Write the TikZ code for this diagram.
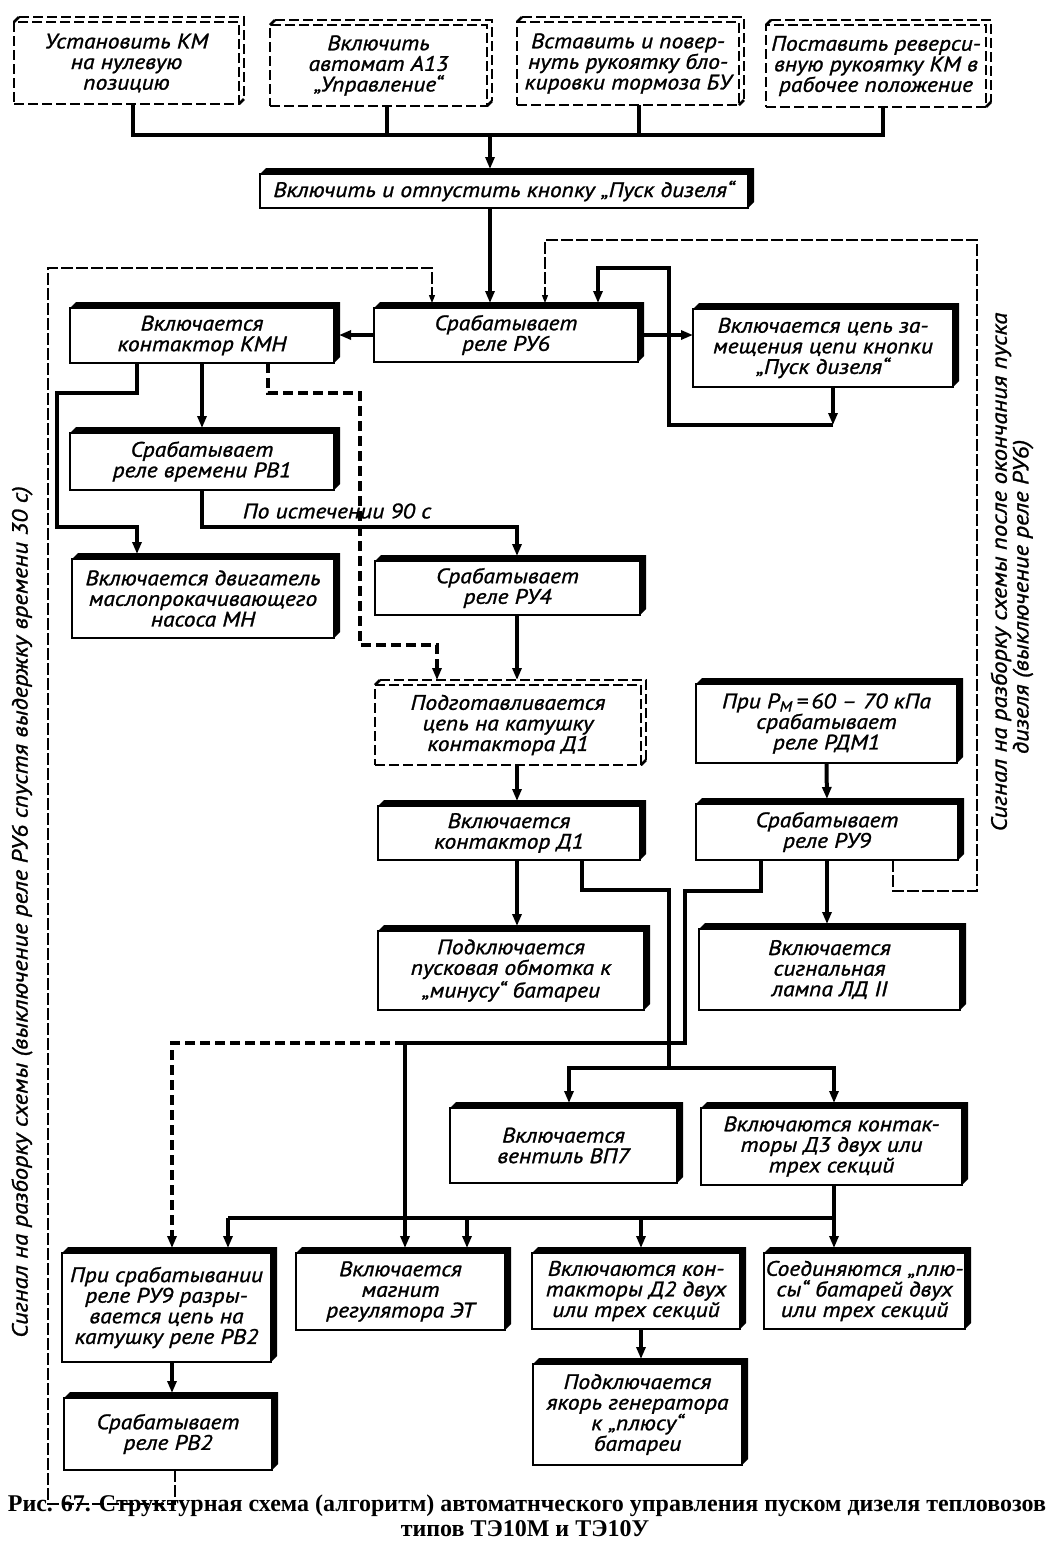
\documentclass[tikz,border=0pt]{standalone}
\usepackage{fontspec}
\newfontfamily\gost[FakeStretch=1.12,FakeBold=1.2]{PT Sans}
\newfontfamily\capfont{Liberation Serif}
\usetikzlibrary{arrows.meta,calc}
\tikzset{
  blk/.style={draw, line width=1pt, fill=white, inner sep=0pt, outer sep=0pt, align=center,
    font=\gost\itshape\fontsize{10.5pt}{10.3pt}\selectfont},
  dblk/.style={blk, line width=1.3pt, dash pattern=on 5pt off 2pt},
  dshadow/.style={line width=1.3pt, dash pattern=on 5pt off 2pt},
  conn/.style={line width=2pt},
  arr/.style={conn, -{Triangle[length=6pt,width=4.5pt]}, shorten >=2.5pt},
  arrL/.style={conn, -{Triangle[length=6pt,width=4.5pt]}},
  dashcon/.style={dash pattern=on 5pt off 2.5pt},
  sig/.style={line width=0.6pt, dash pattern=on 6pt off 1.5pt, -{Triangle[length=4pt,width=3pt]}, shorten >=2.5pt},
  rot/.style={rotate=90, inner sep=0pt, font=\gost\itshape\fontsize{11pt}{11pt}\selectfont},
  lbl/.style={inner sep=0pt, font=\gost\itshape\fontsize{10.5pt}{10.3pt}\selectfont},
  captxt/.style={inner sep=0pt, anchor=base, font=\capfont\bfseries\fontsize{12pt}{12.5pt}\selectfont}
}
\newcommand\Bx[7]{\node[#1, minimum width=#5*0.5pt, minimum height=#6*0.5pt] (#2) at (#3,#4) {#7};}
\begin{document}
\begin{tikzpicture}[x=0.5pt,y=-0.5pt]
\useasboundingbox (0,0) rectangle (1052,1565);
\fill[white] (0,0) rectangle (1052,1565);
% ---- boxes
\Bx{dblk}{B1}{126.5}{63}{225}{82}{Установить КМ\\на нулевую\\позицию}
\Bx{dblk}{B2}{378.5}{65.5}{217}{81}{Включить\\автомат А13\\„Управление“}
\Bx{dblk}{B3}{628}{63.5}{222}{83}{Вставить и повер-\\нуть рукоятку бло-\\кировки тормоза БУ}
\Bx{dblk}{B4}{876}{66}{220}{82}{Поставить реверси-\\вную рукоятку КМ в\\рабочее положение}
\Bx{blk}{PUSK}{504}{191}{488}{34}{Включить и отпустить кнопку „Пуск дизеля“}
\Bx{blk}{RU6}{506}{335}{264}{54}{Срабатывает\\реле РУ6}
\Bx{blk}{KMN}{202}{335.5}{264}{55}{Включается\\контактор КМН}
\Bx{blk}{ZAM}{823}{348}{260}{78}{Включается цепь за-\\мещения цепи кнопки\\„Пуск дизеля“}
\Bx{blk}{RV1}{202}{461.5}{264}{57}{Срабатывает\\реле времени РВ1}
\Bx{blk}{MN}{203}{598.5}{262}{79}{Включается двигатель\\маслопрокачивающего\\насоса МН}
\Bx{blk}{RU4}{507.5}{588}{265}{54}{Срабатывает\\реле РУ4}
\Bx{dblk}{PODG}{508}{725}{266}{80}{Подготавливается\\цепь на катушку\\контактора Д1}
\Bx{blk}{D1}{509}{833}{262}{54}{Включается\\контактор Д1}
\Bx{blk}{PUSKOB}{511}{970.5}{266}{79}{Подключается\\пусковая обмотка к\\„минусу“ батареи}
\Bx{blk}{RDM}{826.5}{723.5}{261}{79}{При Р\textsubscript{М}\,=\,60 – 70 кПа\\срабатывает\\реле РДМ1}
\Bx{blk}{RU9}{827}{832}{262}{56}{Срабатывает\\реле РУ9}
\Bx{blk}{LAMP}{829.5}{969.5}{261}{81}{Включается\\сигнальная\\лампа ЛД II}
\Bx{blk}{VP7}{563.5}{1145.5}{227}{75}{Включается\\вентиль ВП7}
\Bx{blk}{D3}{831.5}{1146.5}{261}{77}{Включаются контак-\\торы Д3 двух или\\трех секций}
\Bx{blk}{RV2C}{166.5}{1307.5}{209}{109}{При срабатывании\\реле РУ9 разры-\\вается цепь на\\катушку реле РВ2}
\Bx{blk}{ET}{400.5}{1291.5}{209}{77}{Включается\\магнит\\регулятора ЭТ}
\Bx{blk}{D2}{636}{1291}{208}{76}{Включаются кон-\\такторы Д2 двух\\или трех секций}
\Bx{blk}{PLUS}{864.5}{1291}{201}{76}{Соединяются „плю-\\сы“ батарей двух\\или трех секций}
\Bx{blk}{YAK}{637.5}{1414.5}{209}{101}{Подключается\\якорь генератора\\к „плюсу“\\батареи}
\Bx{blk}{RV2}{168}{1434}{208}{72}{Срабатывает\\реле РВ2}
% ---- shadows
\foreach \n in {PUSK,RU6,KMN,ZAM,RV1,MN,RU4,D1,PUSKOB,RDM,RU9,LAMP,VP7,D3,RV2C,ET,D2,PLUS,YAK,RV2}
  \fill (\n.north west) -- ++(6,-6) -- ([shift={(6,-6)}]\n.north east) -- ([shift={(6,-6)}]\n.south east) -- (\n.south east) -- (\n.north east) -- cycle;
\foreach \n in {B1,B2,B3,B4,PODG}{
  \draw[dshadow] ([shift={(5,-5)}]\n.north west) -- ([shift={(5,-5)}]\n.north east) -- ([shift={(5,-5)}]\n.south east);
  \draw[line width=1.3pt] (\n.north west) -- ++(5,-5) (\n.south east) -- ++(5,-5);
}
% ---- top bus
\coordinate (j1) at (133,135); \coordinate (j2) at (387,135);
\coordinate (j3) at (639,135); \coordinate (j4) at (883,135);
\coordinate (jp) at (490,135);
\draw[conn] (B1.south -| j1) -- (j1) -- (j4) -- (B4.south -| j4);
\draw[conn] (B2.south -| j2) -- (j2);
\draw[conn] (B3.south -| j3) -- (j3);
\draw[arr] (jp) -- (PUSK.north -| jp);
\draw[arr] (PUSK.south -| jp) -- (RU6.north -| jp);
% ---- RU6 row
\draw[arr] (RU6.west) -- (KMN.east |- RU6.west);
\draw[arrL] (RU6.east) -- (ZAM.west |- RU6.east);
\coordinate (l1) at (833,425); \coordinate (l2) at (669,425);
\coordinate (l3) at (669,268); \coordinate (l4) at (598,268);
\draw[arrL] (ZAM.south -| l1) -- (l1);
\draw[arr] (l1) -- (l2) -- (l3) -- (l4) -- (RU6.north -| l4);
% ---- KMN
\draw[arr] (KMN.south) -- (RV1.north);
\coordinate (k1) at (137,393); \coordinate (k2) at (57,393);
\coordinate (k3) at (57,527); \coordinate (k4) at (137,527);
\draw[arr] (KMN.south -| k1) -- (k1) -- (k2) -- (k3) -- (k4) -- (MN.north -| k4);
\coordinate (d1) at (268,393); \coordinate (d2) at (360,393);
\coordinate (d3) at (360,645); \coordinate (d4) at (437,645);
\draw[arr,dashcon] (KMN.south -| d1) -- (d1) -- (d2) -- (d3) -- (d4) -- (PODG.north -| d4);
% ---- RV1 -> RU4
\coordinate (r1) at (517,527);
\draw[arr] (RV1.south) |- (r1) -- (RU4.north -| r1);
\node[lbl] (lbl90) at (337,511) {По истечении 90 с};
\draw[arr] (RU4.south -| r1) -- (PODG.north -| r1);
\draw[arr] (PODG.south -| r1) -- (D1.north -| r1);
\draw[arr] (D1.south -| r1) -- (PUSKOB.north -| r1);
% ---- D1 branch
\coordinate (e1) at (582,890); \coordinate (e2) at (669,890);
\coordinate (e3) at (669,1068); \coordinate (e4) at (569,1068); \coordinate (e5) at (834,1068);
\draw[conn] (D1.south -| e1) -- (e1) -- (e2) -- (e3);
\draw[arr] (e3) -- (e4) -- (VP7.north -| e4);
\draw[arr] (e3) -- (e5) -- (D3.north -| e5);
% ---- RU9 branch
\coordinate (f1) at (761,891); \coordinate (f2) at (685,891);
\coordinate (f3) at (685,1043); \coordinate (f4) at (405,1043); \coordinate (f5) at (172,1043);
\draw[conn] (RU9.south -| f1) -- (f1) -- (f2) -- (f3) -- (f4);
\draw[arr] (f4) -- (ET.north -| f4);
\draw[arr,dashcon] (f4) -- (f5) -- (RV2C.north -| f5);
\draw[arr] (RDM.south) -- (RU9.north);
\draw[arr] (RU9.south) -- (RU9.south |- LAMP.north);
% ---- D3 branch
\coordinate (g1) at (834,1218); \coordinate (g2) at (228,1218);
\coordinate (g3) at (467,1218); \coordinate (g4) at (641,1218);
\draw[conn] (D3.south -| g1) -- (g1) -- (g2);
\draw[arr] (g2) -- (RV2C.north -| g2);
\draw[arr] (g3) -- (ET.north -| g3);
\draw[arr] (g4) -- (D2.north -| g4);
\draw[arr] (g1) -- (PLUS.north -| g1);
\draw[arr] (D2.south -| g4) -- (YAK.north -| g4);
\draw[arr] (RV2C.south -| f5) -- (RV2.north -| f5);
% ---- signal lines
\coordinate (s1) at (175,1504); \coordinate (s2) at (48,1504);
\coordinate (s3) at (48,268); \coordinate (s4) at (432,268);
\draw[sig] (RV2.south -| s1) -- (s1) -- (s2) -- (s3) -- (s4) -- (RU6.north -| s4);
\coordinate (t1) at (893,891); \coordinate (t2) at (977,891);
\coordinate (t3) at (977,240); \coordinate (t4) at (545,240);
\draw[sig] (RU9.south -| t1) -- (t1) -- (t2) -- (t3) -- (t4) -- (RU6.north -| t4);
\node[rot] (sigL) at (22,912) {Сигнал на разборку схемы (выключение реле РУ6 спустя выдержку времени 30 с)};
\node[rot] (sigR1) at (1001,572) {Сигнал на разборку схемы после окончания пуска};
\node[rot] (sigR2) at (1023,597) {дизеля (выключение реле РУ6)};
% ---- caption
\node[captxt] (cap1) at (527,1511) {Рис. 67. Структурная схема (алгоритм) автоматнческого управления пуском дизеля тепловозов};
\node[captxt] (cap2) at (525,1536) {типов ТЭ10М и ТЭ10У};
\end{tikzpicture}
\end{document}
